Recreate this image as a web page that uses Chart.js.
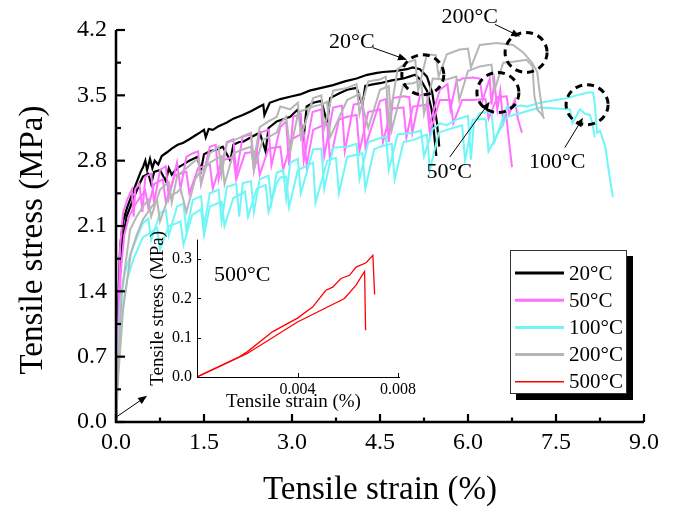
<!DOCTYPE html>
<html><head><meta charset="utf-8">
<script src="https://cdn.jsdelivr.net/npm/chart.js@4.4.1/dist/chart.umd.min.js"></script>
<style>
html,body{margin:0;padding:0;background:#fff;}
#wrap{position:relative;width:674px;height:507px;overflow:hidden;}
#main{position:absolute;left:0;top:0;}
#inset{position:absolute;left:130px;top:225px;}
</style></head><body>
<div id="wrap"><canvas id="main" width="674" height="507"></canvas><canvas id="inset" width="290" height="190"></canvas></div>
<script>
// ---------- DATA ----------
const legendLabels = ['20°C','50°C','100°C','200°C','500°C'];
const seriesColors = ['#000000','#FF70FF','#70F6F6','#B6B6B6','#FF0000'];

const xTickValues = [0,1.5,3.0,4.5,6.0,7.5,9.0];
const yTickValues = [0,0.7,1.4,2.1,2.8,3.5,4.2];
const insetXTicks = [0.004,0.008];
const insetYTicks = [0,0.1,0.2,0.3];

// 20 °C (two specimens)
const strain20a = [0,0.02,0.04,0.07,0.12,0.19,0.28,0.36,0.42,0.46,0.5,0.53,0.58,0.62,0.66,0.72,0.78,0.87,0.95,1.05,1.14,1.25,1.35,1.43,1.5,1.53,1.58,1.65,1.75,1.89,2.0,2.16,2.3,2.45,2.51,2.53,2.62,2.8,3.0,3.14,3.3,3.5,3.7,3.9,4.1,4.28,4.45,4.55,4.75,4.96,5.06,5.18,5.3,5.39,5.47,5.51];
const stress20a = [0,0.7,1.3,1.88,2.15,2.3,2.45,2.58,2.68,2.73,2.8,2.7,2.82,2.72,2.8,2.76,2.85,2.89,2.93,2.97,2.99,3.03,3.07,3.10,3.13,3.05,3.14,3.13,3.17,3.21,3.25,3.29,3.33,3.38,3.40,3.29,3.42,3.46,3.49,3.51,3.55,3.58,3.61,3.65,3.68,3.72,3.74,3.75,3.76,3.78,3.80,3.78,3.70,3.53,3.21,2.95];
const strain20b = [0,0.03,0.06,0.1,0.18,0.3,0.4,0.46,0.55,0.6,0.65,0.75,0.85,0.9,0.95,1.04,1.15,1.25,1.38,1.45,1.5,1.6,1.72,1.82,1.95,2.0,2.1,2.16,2.3,2.45,2.55,2.6,2.74,2.97,3.1,3.2,3.25,3.36,3.5,3.6,3.65,3.8,3.94,4.1,4.2,4.25,4.4,4.5,4.7,4.9,5.0,5.1,5.2,5.3,5.38,5.42,5.46];
const stress20b = [0,0.9,1.5,1.9,2.2,2.4,2.55,2.63,2.66,2.55,2.68,2.7,2.58,2.72,2.65,2.72,2.76,2.8,2.84,2.7,2.87,2.9,2.92,2.95,2.8,2.97,3.0,3.0,3.05,3.1,2.9,3.15,3.22,3.27,3.35,3.05,3.38,3.42,3.44,3.2,3.47,3.52,3.56,3.58,3.4,3.6,3.62,3.63,3.66,3.68,3.70,3.72,3.66,3.55,3.35,3.1,2.85];

// 50 °C
const strain50a = [0,0.03,0.07,0.12,0.19,0.27,0.3,0.33,0.4,0.45,0.5,0.6,0.65,0.75,0.85,0.9,1.04,1.1,1.2,1.31,1.4,1.45,1.6,1.7,1.75,1.89,2.0,2.05,2.16,2.3,2.35,2.45,2.6,2.65,2.8,2.9,2.95,3.02,3.15,3.2,3.35,3.5,3.55,3.7,3.85,3.9,4.05,4.2,4.25,4.5,4.6,4.65,4.72,4.9,5.0,5.05,5.18,5.3,5.35,5.52,5.65,5.7,5.81,5.86,5.9,6.08,6.2,6.25,6.37,6.4,6.45,6.5,6.55,6.6,6.65,6.7,6.75];
const stress50a = [0,0.9,1.88,2.24,2.38,2.49,2.2,2.5,2.55,2.25,2.63,2.66,2.35,2.70,2.74,2.4,2.78,2.5,2.84,2.88,2.9,2.55,2.95,2.97,2.6,3.0,3.03,2.65,3.06,3.08,2.7,3.1,3.13,2.75,3.16,3.22,2.75,3.27,3.3,2.8,3.32,3.35,2.85,3.37,3.39,2.9,3.4,3.42,2.95,3.44,3.46,3.0,3.47,3.49,3.48,3.1,3.5,3.52,3.2,3.56,3.62,3.35,3.67,3.66,3.68,3.69,3.68,3.45,3.68,3.4,3.65,3.35,3.55,3.2,3.3,3.0,2.73];
const strain50b = [0,0.03,0.08,0.14,0.22,0.3,0.4,0.5,0.55,0.65,0.8,0.85,1.0,1.2,1.25,1.4,1.6,1.65,1.8,2.0,2.05,2.2,2.4,2.45,2.6,2.8,2.85,3.0,3.2,3.25,3.36,3.6,3.65,3.8,3.94,4.1,4.15,4.3,4.5,4.55,4.7,4.9,4.95,5.06,5.3,5.35,5.52,5.7,5.75,5.9,6.08,6.3,6.35,6.5,6.66,6.7,6.8,6.85,6.92];
const stress50b = [0,0.8,1.6,2.0,2.2,2.3,2.4,2.48,2.3,2.55,2.6,2.35,2.64,2.68,2.45,2.72,2.76,2.5,2.8,2.84,2.6,2.88,2.9,2.65,2.93,2.95,2.7,3.03,3.1,2.75,3.13,3.2,2.8,3.24,3.27,3.29,2.9,3.32,3.35,3.0,3.36,3.37,3.05,3.38,3.4,3.1,3.45,3.45,3.2,3.45,3.45,3.46,3.25,3.48,3.49,3.3,3.45,3.25,3.1];

// 100 °C
const strain100a = [0,0.03,0.08,0.15,0.27,0.36,0.46,0.55,0.6,0.75,0.85,0.9,1.04,1.15,1.2,1.31,1.45,1.5,1.6,1.75,1.8,1.89,2.05,2.1,2.16,2.3,2.35,2.45,2.6,2.65,2.74,2.85,2.9,2.97,3.1,3.15,3.36,3.5,3.55,3.7,3.94,4.1,4.15,4.3,4.5,4.6,4.65,4.8,5.06,5.2,5.25,5.4,5.52,5.64,5.8,5.9,6.0,6.05,6.1,6.2,6.4,6.45,6.66,6.9,7.0,7.23,7.5,7.69,7.91,8.05,8.13,8.16,8.2,8.25,8.34,8.42,8.47];
const stress100a = [0,0.7,1.3,1.6,1.84,1.98,2.13,2.18,1.95,2.24,2.27,2.0,2.31,2.34,2.05,2.38,2.42,2.1,2.45,2.49,2.15,2.52,2.55,2.2,2.56,2.58,2.25,2.6,2.64,2.35,2.67,2.7,2.4,2.78,2.82,2.45,2.92,2.93,2.5,2.94,2.95,2.98,2.6,3.0,3.04,3.06,2.7,3.08,3.1,3.12,2.85,3.14,3.2,3.18,3.24,3.26,3.28,2.81,3.2,3.31,3.33,3.0,3.37,3.39,3.38,3.42,3.45,3.47,3.51,3.53,3.53,3.42,3.1,3.12,2.95,2.6,2.41];
const strain100b = [0,0.03,0.1,0.2,0.3,0.46,0.6,0.7,0.75,0.9,1.04,1.1,1.15,1.3,1.45,1.5,1.6,1.8,1.85,2.0,2.16,2.2,2.25,2.4,2.55,2.6,2.74,2.8,2.9,2.95,3.1,3.3,3.36,3.4,3.6,3.75,3.8,3.94,4.2,4.25,4.4,4.5,4.7,4.75,4.9,5.06,5.3,5.35,5.5,5.64,5.9,5.95,6.08,6.3,6.35,6.66,6.9,7.0,7.23,7.5,7.74,7.78,7.91,8.0,8.08,8.12,8.16];
const stress100b = [0,0.6,1.2,1.55,1.75,1.98,2.03,2.08,1.85,2.1,2.13,2.15,1.9,2.22,2.28,2.0,2.31,2.36,2.1,2.4,2.45,2.47,2.2,2.5,2.54,2.25,2.56,2.62,2.63,2.3,2.7,2.76,2.78,2.35,2.8,2.83,2.45,2.84,2.88,2.5,2.92,2.95,2.98,2.6,3.0,3.02,3.08,2.7,3.1,3.13,3.18,2.8,3.24,3.25,2.9,3.27,3.31,3.33,3.37,3.36,3.35,3.2,3.35,3.3,3.29,3.2,3.05];

// 200 °C
const strain200a = [0,0.03,0.1,0.24,0.35,0.46,0.55,0.6,0.75,0.9,0.95,1.04,1.2,1.31,1.4,1.45,1.6,1.75,1.8,1.89,2.05,2.16,2.3,2.35,2.45,2.6,2.74,2.8,2.97,3.1,3.15,3.36,3.5,3.55,3.7,3.94,4.1,4.15,4.3,4.5,4.6,4.65,4.8,4.96,5.1,5.15,5.3,5.45,5.5,5.64,5.86,6.0,6.05,6.2,6.49,6.77,6.94,7.09,7.18,7.21,7.28];
const stress200a = [0,0.6,1.4,2.06,2.2,2.31,2.38,2.2,2.49,2.57,2.35,2.63,2.72,2.78,2.82,2.55,2.88,2.95,2.65,2.99,3.03,3.06,3.1,2.8,3.16,3.22,3.27,3.38,3.35,3.42,3.05,3.47,3.5,3.15,3.55,3.58,3.62,3.3,3.65,3.67,3.7,3.2,3.78,3.85,3.88,3.55,3.94,3.93,3.7,3.94,3.99,4.0,3.8,4.04,4.06,4.04,3.96,3.85,3.75,3.59,3.27];
const strain200b = [0,0.04,0.12,0.25,0.35,0.46,0.6,0.7,0.75,0.9,1.04,1.1,1.2,1.35,1.4,1.6,1.8,1.85,2.0,2.16,2.3,2.35,2.5,2.74,2.8,2.9,2.97,3.1,3.15,3.36,3.5,3.6,3.65,3.94,4.1,4.15,4.3,4.5,4.65,4.7,4.9,5.06,5.2,5.25,5.4,5.64,5.8,5.85,6.0,6.2,6.4,6.45,6.6,6.77,7.0,7.1,7.13,7.18,7.25,7.3];
const stress200b = [0,0.5,1.2,1.8,2.0,2.17,2.3,2.38,2.15,2.42,2.46,2.5,2.25,2.6,2.65,2.78,2.85,2.55,2.88,2.92,2.95,2.7,3.02,3.1,3.2,3.27,2.9,3.3,3.33,3.38,3.4,3.43,3.05,3.45,3.5,3.52,3.15,3.56,3.6,3.13,3.62,3.63,3.66,3.3,3.68,3.67,3.7,3.45,3.76,3.81,3.83,3.55,3.85,3.86,3.88,3.81,3.5,3.35,3.3,3.25];

// 500 °C (also shown in the inset)
const strain500a = [0,0.00167,0.002,0.003,0.004,0.0046,0.00513,0.0054,0.00573,0.00607,0.00633,0.00673,0.007,0.00707];
const stress500a = [0,0.051,0.064,0.115,0.15,0.178,0.221,0.229,0.251,0.259,0.28,0.291,0.31,0.21];
const strain500b = [0,0.0016,0.002,0.004,0.00587,0.00633,0.00667,0.00671];
const stress500b = [0,0.048,0.06,0.14,0.2,0.234,0.269,0.119];

// callouts (data coordinates)
const calloutLabels = ['20°C','200°C','50°C','100°C'];
const calloutTextPos = [[4.02,4.065],[6.03,4.34],[5.68,2.68],[7.52,2.78]];
const calloutArrowFrom = [[4.38,4.01],[6.46,4.26],[5.69,2.84],[7.65,2.94]];
const calloutArrowTo = [[4.96,3.88],[6.89,4.13],[6.37,3.43],[7.96,3.26]];
const circleCenters = [[5.23,3.72],[6.99,3.96],[6.51,3.53],[8.03,3.40]];
const originArrow = [[0.02,0.06],[0.53,0.28]];

// ---------- HELPERS ----------
const SERIF = "'Liberation Serif','Times New Roman',serif";
function zip(xs, ys){ return xs.map((x,i)=>({x:x, y:ys[i]})); }
function ds(xs, ys, ci, w, ord){
  return {data: zip(xs, ys), borderColor: seriesColors[ci], backgroundColor: seriesColors[ci],
    borderWidth: w, showLine: true, pointRadius: 0, tension: 0, order: ord};
}
function arrow(ctx, x1, y1, x2, y2, head){
  const ang = Math.atan2(y2-y1, x2-x1);
  ctx.beginPath(); ctx.moveTo(x1,y1);
  ctx.lineTo(x2 - Math.cos(ang)*head*0.8, y2 - Math.sin(ang)*head*0.8); ctx.stroke();
  ctx.beginPath(); ctx.moveTo(x2,y2);
  ctx.lineTo(x2 - head*Math.cos(ang) + head*0.4*Math.sin(ang), y2 - head*Math.sin(ang) - head*0.4*Math.cos(ang));
  ctx.lineTo(x2 - head*Math.cos(ang) - head*0.4*Math.sin(ang), y2 - head*Math.sin(ang) + head*0.4*Math.cos(ang));
  ctx.closePath(); ctx.fill();
}

// ---------- MAIN CHART ----------
const mainDecor = {
  id: 'mainDecor',
  afterDraw(chart){
    const ctx = chart.ctx, sx = chart.scales.x, sy = chart.scales.y, a = chart.chartArea;
    const X = v => sx.getPixelForValue(v), Y = v => sy.getPixelForValue(v);
    ctx.save();
    ctx.globalAlpha = 1; ctx.globalCompositeOperation = 'source-over';
    ctx.strokeStyle = '#000'; ctx.fillStyle = '#000';
    // axis lines
    ctx.lineWidth = 2.5;
    ctx.beginPath(); ctx.moveTo(a.left, a.top); ctx.lineTo(a.left, a.bottom); ctx.lineTo(a.right, a.bottom); ctx.stroke();
    // inward ticks
    ctx.lineWidth = 2.2;
    for (let i = 0; i < xTickValues.length; i++){
      const p = X(xTickValues[i]);
      ctx.beginPath(); ctx.moveTo(p, a.bottom); ctx.lineTo(p, a.bottom - 8); ctx.stroke();
      if (i < xTickValues.length - 1){
        const m = X((xTickValues[i] + xTickValues[i+1]) / 2);
        ctx.beginPath(); ctx.moveTo(m, a.bottom); ctx.lineTo(m, a.bottom - 4.5); ctx.stroke();
      }
    }
    for (let i = 0; i < yTickValues.length; i++){
      const p = Y(yTickValues[i]);
      ctx.beginPath(); ctx.moveTo(a.left, p); ctx.lineTo(a.left + 9, p); ctx.stroke();
      if (i < yTickValues.length - 1){
        const m = Y((yTickValues[i] + yTickValues[i+1]) / 2);
        ctx.beginPath(); ctx.moveTo(a.left, m); ctx.lineTo(a.left + 5, m); ctx.stroke();
      }
    }
    // axis titles
    ctx.font = '33px ' + SERIF; ctx.textAlign = 'center'; ctx.textBaseline = 'middle';
    ctx.fillText('Tensile strain (%)', (a.left + a.right) / 2, 490);
    ctx.save(); ctx.translate(33, 240); ctx.rotate(-Math.PI/2);
    ctx.fillText('Tensile stress (MPa)', 0, 0); ctx.restore();
    // callouts
    ctx.font = '22px ' + SERIF;
    ctx.lineWidth = 1;
    for (let i = 0; i < calloutLabels.length; i++){
      ctx.fillText(calloutLabels[i], X(calloutTextPos[i][0]), Y(calloutTextPos[i][1]));
      arrow(ctx, X(calloutArrowFrom[i][0]), Y(calloutArrowFrom[i][1]), X(calloutArrowTo[i][0]), Y(calloutArrowTo[i][1]), 9);
    }
    arrow(ctx, X(originArrow[0][0]), Y(originArrow[0][1]), X(originArrow[1][0]), Y(originArrow[1][1]), 9);
    ctx.lineWidth = 3; ctx.setLineDash([7,5]);
    for (const c of circleCenters){
      ctx.beginPath(); ctx.ellipse(X(c[0]), Y(c[1]), 21, 20, 0, 0, Math.PI*2); ctx.stroke();
    }
    ctx.setLineDash([]);
    ctx.restore();

    // legend with drop shadow
    ctx.save();
    const lx = 510, ly = 250, lw = 117, lh = 144, off = 6;
    ctx.fillStyle = '#000000';
    ctx.beginPath(); ctx.rect(lx + lw, ly + off, off, lh); ctx.fill();
    ctx.beginPath(); ctx.rect(lx + off, ly + lh, lw, off); ctx.fill();
    ctx.fillStyle = '#ffffff';
    ctx.beginPath(); ctx.rect(lx, ly, lw, lh); ctx.fill();
    ctx.strokeStyle = '#333333'; ctx.lineWidth = 1;
    ctx.strokeRect(lx + 0.5, ly + 0.5, lw - 1, lh - 1);
    ctx.font = '21px ' + SERIF; ctx.textAlign = 'left'; ctx.textBaseline = 'middle';
    for (let i = 0; i < legendLabels.length; i++){
      const yy = 273 + i * 27.2;
      ctx.strokeStyle = seriesColors[i]; ctx.lineWidth = i === 4 ? 1.5 : 3;
      ctx.beginPath(); ctx.moveTo(515, yy); ctx.lineTo(564, yy); ctx.stroke();
      ctx.fillStyle = '#000'; ctx.fillText(legendLabels[i], 569, yy + 1);
    }
    ctx.restore();
  }
};

new Chart(document.getElementById('main'), {
  type: 'scatter',
  data: { datasets: [
    ds(strain20a, stress20a, 0, 2.2, 9),
    ds(strain20b, stress20b, 0, 2.2, 8),
    ds(strain50a, stress50a, 1, 2, 7),
    ds(strain50b, stress50b, 1, 2, 6),
    ds(strain100a, stress100a, 2, 2, 5),
    ds(strain100b, stress100b, 2, 2, 4),
    ds(strain200a, stress200a, 3, 2, 3),
    ds(strain200b, stress200b, 3, 2, 2),
    ds(strain500a, stress500a, 4, 1.5, 1),
    ds(strain500b, stress500b, 4, 1.5, 0)
  ]},
  options: {
    responsive: false, animation: false, devicePixelRatio: 1,
    layout: { padding: { left: 0, right: 30, top: 30, bottom: 0 } },
    plugins: { legend: { display: false }, tooltip: { enabled: false } },
    scales: {
      x: { type: 'linear', min: 0, max: 9,
        afterBuildTicks: s => { s.ticks = xTickValues.map(v => ({value: v})); },
        afterFit: s => { s.height = 85; },
        grid: { display: false, drawTicks: false }, border: { display: false },
        ticks: { font: { family: SERIF, size: 24 }, color: '#000', padding: 6, autoSkip: false, maxRotation: 0,
          callback: v => Number(v).toFixed(1) } },
      y: { type: 'linear', min: 0, max: 4.2,
        afterBuildTicks: s => { s.ticks = yTickValues.map(v => ({value: v})); },
        afterFit: s => { s.width = 116; },
        grid: { display: false, drawTicks: false }, border: { display: false },
        ticks: { font: { family: SERIF, size: 24 }, color: '#000', padding: 9, autoSkip: false,
          callback: v => Number(v).toFixed(1) } }
    }
  },
  plugins: [mainDecor]
});

// ---------- INSET CHART ----------
const insetDecor = {
  id: 'insetDecor',
  afterDraw(chart){
    const ctx = chart.ctx, sx = chart.scales.x, sy = chart.scales.y, a = chart.chartArea;
    ctx.save();
    ctx.strokeStyle = '#000'; ctx.fillStyle = '#000'; ctx.lineWidth = 1;
    ctx.beginPath(); ctx.moveTo(a.left + 0.5, a.top); ctx.lineTo(a.left + 0.5, a.bottom + 0.5); ctx.lineTo(a.right + 2, a.bottom + 0.5); ctx.stroke();
    for (const v of insetXTicks){
      const p = Math.round(sx.getPixelForValue(v)) + 0.5;
      ctx.beginPath(); ctx.moveTo(p, a.bottom); ctx.lineTo(p, a.bottom - 4); ctx.stroke();
    }
    for (const v of insetYTicks){
      const p = Math.round(sy.getPixelForValue(v)) + 0.5;
      ctx.beginPath(); ctx.moveTo(a.left, p); ctx.lineTo(a.left + 4, p); ctx.stroke();
    }
    ctx.font = '19px ' + SERIF; ctx.textAlign = 'center'; ctx.textBaseline = 'middle';
    ctx.fillText('Tensile strain (%)', (a.left + a.right) / 2 - 4, 177);
    ctx.save(); ctx.translate(28, (a.top + a.bottom) / 2); ctx.rotate(-Math.PI/2);
    ctx.fillText('Tensile stress (MPa)', 0, 0); ctx.restore();
    ctx.font = '22px ' + SERIF;
    ctx.fillText('500°C', sx.getPixelForValue(0.0018), sy.getPixelForValue(0.26));
    ctx.restore();
  }
};

new Chart(document.getElementById('inset'), {
  type: 'scatter',
  data: { datasets: [
    ds(strain500a, stress500a, 4, 1.3, 1),
    ds(strain500b, stress500b, 4, 1.3, 0)
  ]},
  options: {
    responsive: false, animation: false, devicePixelRatio: 1,
    layout: { padding: { left: 0, right: 22, top: 13, bottom: 0 } },
    plugins: { legend: { display: false }, tooltip: { enabled: false } },
    scales: {
      x: { type: 'linear', min: 0, max: 0.008,
        afterBuildTicks: s => { s.ticks = insetXTicks.map(v => ({value: v})); },
        afterFit: s => { s.height = 38; },
        grid: { display: false, drawTicks: false }, border: { display: false },
        ticks: { font: { family: SERIF, size: 16 }, color: '#000', padding: 3, autoSkip: false, maxRotation: 0,
          callback: v => Number(v).toFixed(3) } },
      y: { type: 'linear', min: 0, max: 0.35,
        afterBuildTicks: s => { s.ticks = insetYTicks.map(v => ({value: v})); },
        afterFit: s => { s.width = 67; },
        grid: { display: false, drawTicks: false }, border: { display: false },
        ticks: { font: { family: SERIF, size: 16 }, color: '#000', padding: 5, autoSkip: false,
          callback: v => Number(v).toFixed(1) } }
    }
  },
  plugins: [insetDecor]
});
</script></body></html>
